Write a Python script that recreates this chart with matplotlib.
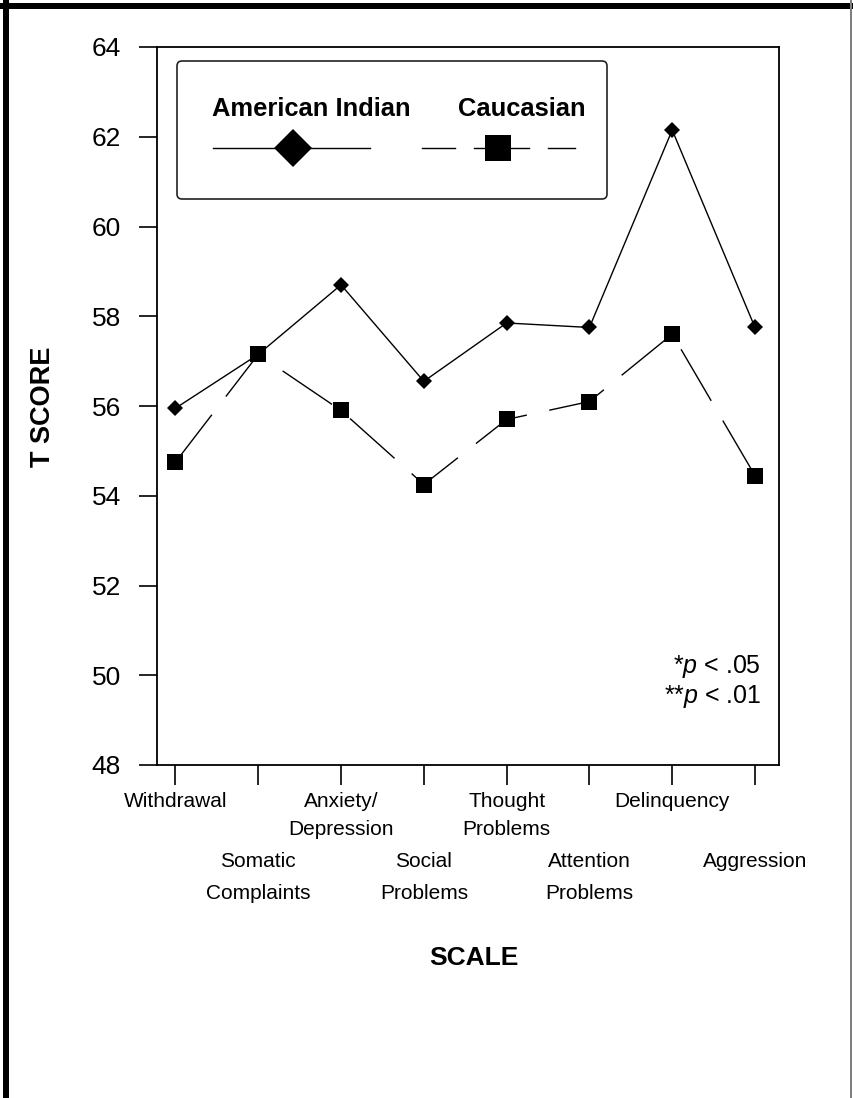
import matplotlib
matplotlib.use("Agg")
import matplotlib.pyplot as plt
import matplotlib.transforms as mtransforms
from matplotlib.patches import FancyBboxPatch, Rectangle
from matplotlib.lines import Line2D

# ---------------- data ----------------
scales = ["Withdrawal", "Somatic\nComplaints", "Anxiety/\nDepression", "Social\nProblems",
          "Thought\nProblems", "Attention\nProblems", "Delinquency", "Aggression"]
american_indian = [55.95, 57.15, 58.70, 56.55, 57.85, 57.75, 62.15, 57.75]
caucasian = [54.75, 57.15, 55.90, 54.25, 55.70, 56.10, 57.60, 54.45]
y_ticks = [48, 50, 52, 54, 56, 58, 60, 62, 64]
series_names = ["American Indian", "Caucasian"]
y_label = "T SCORE"
x_label = "SCALE"
notes = [r"*$p$ < .05", r"**$p$ < .01"]

# ---------------- style ----------------
W, H = 854, 1098
plt.rcParams['font.family'] = ['Liberation Sans', 'DejaVu Sans']
plt.rcParams['mathtext.fontset'] = 'custom'
plt.rcParams['mathtext.rm'] = 'Liberation Sans'
plt.rcParams['mathtext.it'] = 'Liberation Sans:italic'
plt.rcParams['mathtext.bf'] = 'Liberation Sans:bold'

fig = plt.figure(figsize=(W / 100, H / 100), dpi=100)
fig.patch.set_facecolor('white')
# pixel coordinates measured from the top-left corner of the image
pix = mtransforms.Affine2D().scale(1 / W, -1 / H).translate(0, 1) + fig.transFigure

L, R, T, B = 157, 779, 47, 765
ax = fig.add_axes([L / W, 1 - B / H, (R - L) / W, (B - T) / H])

x = list(range(len(scales)))
ax.plot(x, american_indian, color='black', lw=1.0, marker='D', ms=8.2, mew=0,
        zorder=3, label=series_names[0])
ax.plot(x, caucasian, color='black', lw=1.0, linestyle=(0, (43, 16.5)), marker='s',
        ms=12.2, mew=0, zorder=4, label=series_names[1])

ax.set_xlim(-0.223, 7.29)
ax.set_ylim(48, 64)
ax.set_yticks(y_ticks)
ax.set_yticklabels([str(v) for v in y_ticks], fontsize=19)
ax.set_xticks(x)
ax.set_xticklabels([])
ax.tick_params(axis='y', direction='out', length=13, width=1.2, pad=13)
ax.tick_params(axis='x', direction='out', length=14.5, width=1.2)
for s in ax.spines.values():
    s.set_linewidth(1.3)

# category labels staggered in two groups
row_baselines = [806.7, 835.0, 867.0, 899.0]
for i, lab in enumerate(scales):
    first_row = 0 if i % 2 == 0 else 2
    for j, line in enumerate(lab.split("\n")):
        ax.annotate(line, xy=(i, 0), xycoords=ax.get_xaxis_transform(),
                    xytext=(0, -(row_baselines[first_row + j] - B)),
                    textcoords='offset pixels', ha='center', va='baseline',
                    fontsize=15, annotation_clip=False)

# axis titles
ax.text((43 - L) / (R - L), (B - 407) / (B - T), y_label, transform=ax.transAxes,
        rotation=90, ha='center', va='center', fontsize=19.5, fontweight='bold')
ax.text((474 - L) / (R - L), (B - 965) / (B - T), x_label, transform=ax.transAxes,
        ha='center', va='baseline', fontsize=19, fontweight='bold')

# significance notes
for k, note in enumerate(notes):
    ax.text((761 - L) / (R - L), (B - (673 + 30 * k)) / (B - T), note,
            transform=ax.transAxes, ha='right', va='baseline', fontsize=18)

# legend box (drawn manually: labels above their symbols)
box = FancyBboxPatch((177, 61), 430, 138, boxstyle='round,pad=0,rounding_size=5',
                     transform=pix, facecolor='white', edgecolor='#222222', lw=1.2)
fig.add_artist(box)
fig.text(311.7 / W, 1 - 116 / H, series_names[0], ha='center', va='baseline',
         fontsize=18.4, fontweight='bold')
fig.text(521.7 / W, 1 - 116 / H, series_names[1], ha='center', va='baseline',
         fontsize=18.4, fontweight='bold')
fig.add_artist(Line2D([213, 370], [148, 148], transform=pix, color='black', lw=1.0))
fig.add_artist(Line2D([293], [148], transform=pix, color='black', marker='D',
                      ms=19.3, mew=0, linestyle='none'))
for x0, x1 in [(421.7, 455), (474, 529), (548, 575)]:
    fig.add_artist(Line2D([x0, x1], [148, 148], transform=pix, color='black', lw=1.0))
fig.add_artist(Line2D([498], [148], transform=pix, color='black', marker='s',
                      ms=18.7, mew=0, linestyle='none'))

# outer frame of the screenshot
fig.add_artist(Rectangle((0, 3), W, 6, transform=pix, facecolor='black', edgecolor='none'))
fig.add_artist(Rectangle((3, 0), 6, H, transform=pix, facecolor='black', edgecolor='none'))
fig.add_artist(Rectangle((850.5, 0), 1.5, H, transform=pix, facecolor='#808080',
                         edgecolor='none'))

fig.savefig("out.png", dpi=100)
